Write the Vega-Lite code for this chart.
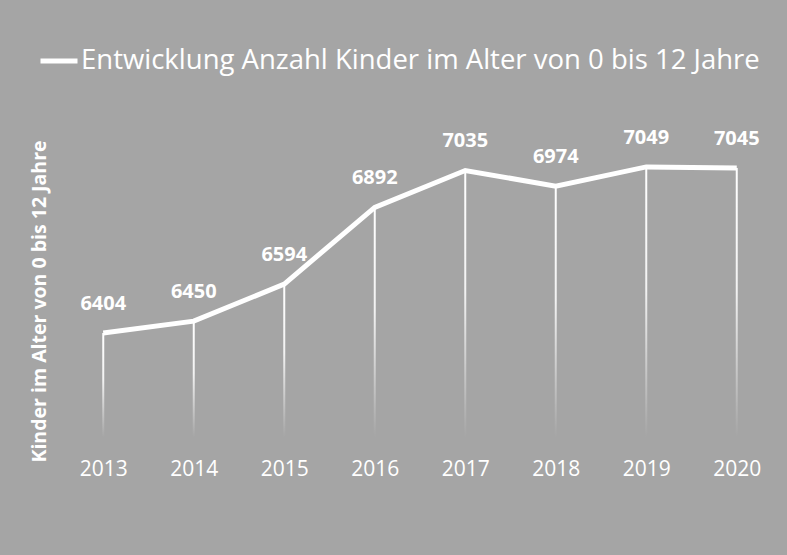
{
  "$schema": "https://vega.github.io/schema/vega-lite/v6.json",
  "width": 724,
  "height": 309,
  "autosize": {"type": "none"},
  "padding": {"left": 58, "top": 128, "right": 5, "bottom": 118},
  "background": "#a5a5a5",
  "config": {"view": {"stroke": null}, "font": "Open Sans"},
  "data": {
    "values": [
      {"year": "2013", "value": 6404},
      {"year": "2014", "value": 6450},
      {"year": "2015", "value": 6594},
      {"year": "2016", "value": 6892},
      {"year": "2017", "value": 7035},
      {"year": "2018", "value": 6974},
      {"year": "2019", "value": 7049},
      {"year": "2020", "value": 7045}
    ]
  },
  "encoding": {
    "x": {
      "field": "year",
      "type": "ordinal",
      "scale": {"type": "point", "padding": 0.5},
      "axis": {
        "title": null,
        "labelColor": "white",
        "labelFont": "Open Sans",
        "labelFontSize": 21,
        "labelPadding": 21,
        "labelAngle": 0,
        "ticks": false,
        "domain": false,
        "grid": false
      }
    },
    "y": {
      "field": "value",
      "type": "quantitative",
      "scale": {"domain": [6000, 7200], "nice": false, "zero": false},
      "axis": {
        "title": "Kinder im Alter von  0 bis 12 Jahre",
        "titleColor": "white",
        "titleFont": "Open Sans",
        "titleFontWeight": "bold",
        "titleFontSize": 19.5,
        "titlePadding": 9,
        "titleY": 173,
        "labels": false,
        "ticks": false,
        "domain": false,
        "grid": false
      }
    }
  },
  "layer": [
    {
      "mark": {
        "type": "bar",
        "size": 2,
        "color": {
          "gradient": "linear",
          "x1": 0, "y1": 0, "x2": 0, "y2": 1,
          "stops": [
            {"offset": 0, "color": "#ffffff"},
            {"offset": 0.45, "color": "#f2f2f2"},
            {"offset": 1, "color": "#a5a5a5"}
          ]
        }
      },
      "encoding": {"y2": {"datum": 6000}}
    },
    {
      "mark": {"type": "line", "strokeWidth": 5},
      "encoding": {
        "color": {
          "datum": "Entwicklung Anzahl Kinder im Alter von 0 bis 12 Jahre",
          "scale": {"range": ["#ffffff"]},
          "legend": {
            "orient": "none",
            "legendX": -20,
            "legendY": -88,
            "title": null,
            "symbolType": "stroke",
            "symbolSize": 1369,
            "symbolStrokeWidth": 5,
            "labelFont": "Open Sans",
            "labelFontSize": 27.5,
            "labelColor": "white",
            "labelOffset": 1,
            "labelLimit": 800
          }
        }
      }
    },
    {
      "mark": {"type": "text", "dy": -29, "font": "Open Sans", "fontWeight": "bold", "fontSize": 20, "color": "white"},
      "encoding": {"text": {"field": "value", "type": "quantitative", "format": "d"}}
    }
  ]
}
